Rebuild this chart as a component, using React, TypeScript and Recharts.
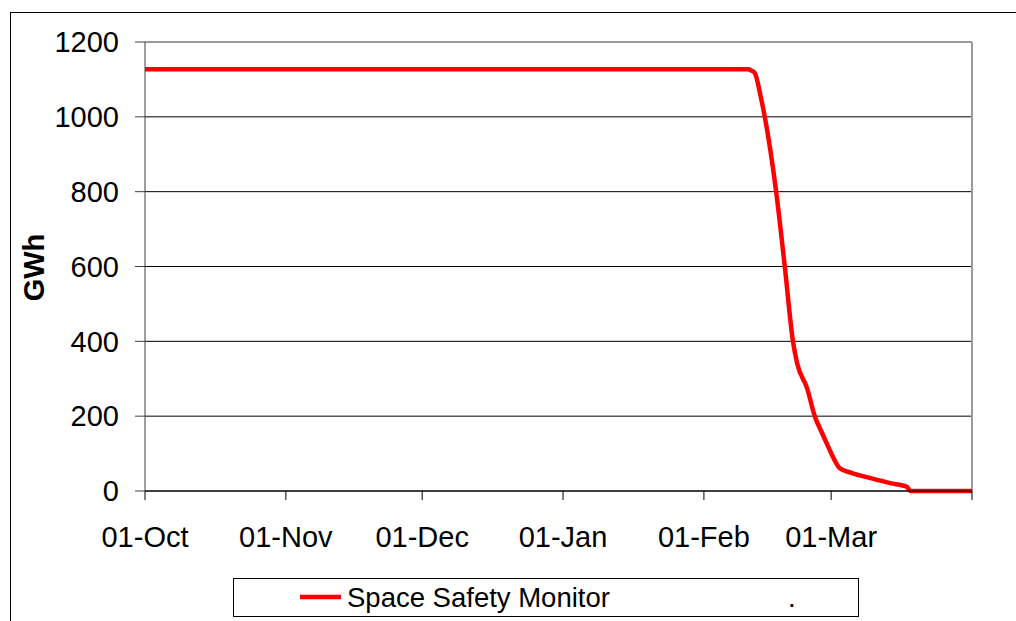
import React from 'react';
import { LineChart, Line, XAxis, YAxis, CartesianGrid, ReferenceLine, Legend } from 'recharts';

const seriesName = 'Space Safety Monitor';

// day index counted from 01-Oct (day 0) to 01-Apr (day 182)
const dayIndex = [
  0, 30, 61, 92, 123, 132.7, 133.4, 134.2, 135.5, 136.4, 138.9, 140.8, 142.6,
  143.5, 145.7, 147.4, 149.0, 150.3, 151.4, 152.9, 155.6, 159.5, 164.0, 167.7, 168.4,
  175, 182,
];
const gwh = [
  1127, 1127, 1127, 1127, 1127, 1127, 1124, 1117, 1054, 1000, 800, 600, 400,
  342, 275, 200, 155, 120, 91, 61, 48, 35, 21, 11, 0,
  0, 0,
];

const xTickDays = [0, 31, 61, 92, 123, 151, 182];
const xTickLabels = ['01-Oct', '01-Nov', '01-Dec', '01-Jan', '01-Feb', '01-Mar', ''];
const yTicks = [0, 200, 400, 600, 800, 1000, 1200];

const data = dayIndex.map((d, i) => ({ day: d, gwh: gwh[i] }));

const FONT = '"Liberation Sans", Arial, Helvetica, sans-serif';

const LegendBox = () => (
  <svg width={626} height={40} style={{ display: 'block' }}>
    <rect x={0.5} y={0.5} width={625} height={38} fill="#fff" stroke="#000" strokeWidth={1} />
    <line x1={67} x2={108} y1={19} y2={19} stroke="#ff0000" strokeWidth={4.5} />
    <text x={114} y={29} fontSize={27.5} fontFamily={FONT} fill="#000">
      {seriesName}
    </text>
    <text x={555} y={29} fontSize={27.5} fontFamily={FONT} fill="#000">
      .
    </text>
  </svg>
);

export default function App() {
  return (
    <div
      style={{
        position: 'absolute',
        left: 0,
        top: 0,
        width: 1016,
        height: 621,
        overflow: 'hidden',
        background: '#fff',
      }}
    >
      <div
        style={{
          position: 'absolute',
          left: 10,
          top: 12,
          width: 1100,
          height: 700,
          borderLeft: '1px solid #000',
          borderTop: '1px solid #000',
        }}
      />
      <div style={{ position: 'absolute', left: 0, top: 0 }}>
        <LineChart
          width={1016}
          height={621}
          data={data}
          margin={{ top: 42, right: 44, left: 0, bottom: 70 }}
          style={{ fontFamily: FONT }}
        >
          <CartesianGrid vertical={false} stroke="#000" strokeWidth={1} />
          <XAxis
            dataKey="day"
            type="number"
            domain={[0, 182]}
            ticks={xTickDays}
            tickFormatter={(v: number) => xTickLabels[xTickDays.indexOf(v)] ?? ''}
            height={60}
            interval={0}
            stroke="#000"
            tickSize={9}
            tickMargin={26}
            tick={{ fill: '#000', fontSize: 29, fontFamily: FONT }}
            allowDataOverflow
          />
          <YAxis
            type="number"
            domain={[0, 1200]}
            ticks={yTicks}
            width={145}
            interval={0}
            stroke="#404040"
            tickSize={10}
            tickMargin={16}
            tick={{ fill: '#000', fontSize: 29, fontFamily: FONT }}
            label={{
              content: (p: any) => {
                const vb = p && p.viewBox ? p.viewBox : { x: 0, y: 42, height: 449 };
                const cx = (vb.x || 0) + 34;
                const cy = vb.y + vb.height / 2 + 1;
                return (
                  <text
                    x={cx}
                    y={cy}
                    transform={`rotate(-90 ${cx} ${cy})`}
                    textAnchor="middle"
                    dy="0.35em"
                    fontSize={29}
                    fontWeight="bold"
                    fontFamily={FONT}
                    fill="#000"
                  >
                    GWh
                  </text>
                );
              },
            }}
          />
          <ReferenceLine y={1200} stroke="#9a9a9a" strokeWidth={2} />
          <ReferenceLine x={182} stroke="#9a9a9a" strokeWidth={2} />
          <Legend
            layout="horizontal"
            verticalAlign="middle"
            align="center"
            wrapperStyle={{ top: 578, left: 233, width: 626, height: 40 }}
            content={() => <LegendBox />}
          />
          <Line
            type="monotone"
            dataKey="gwh"
            name={seriesName}
            stroke="#ff0000"
            strokeWidth={4.5}
            dot={false}
            activeDot={false}
            isAnimationActive={false}
          />
        </LineChart>
      </div>
    </div>
  );
}
